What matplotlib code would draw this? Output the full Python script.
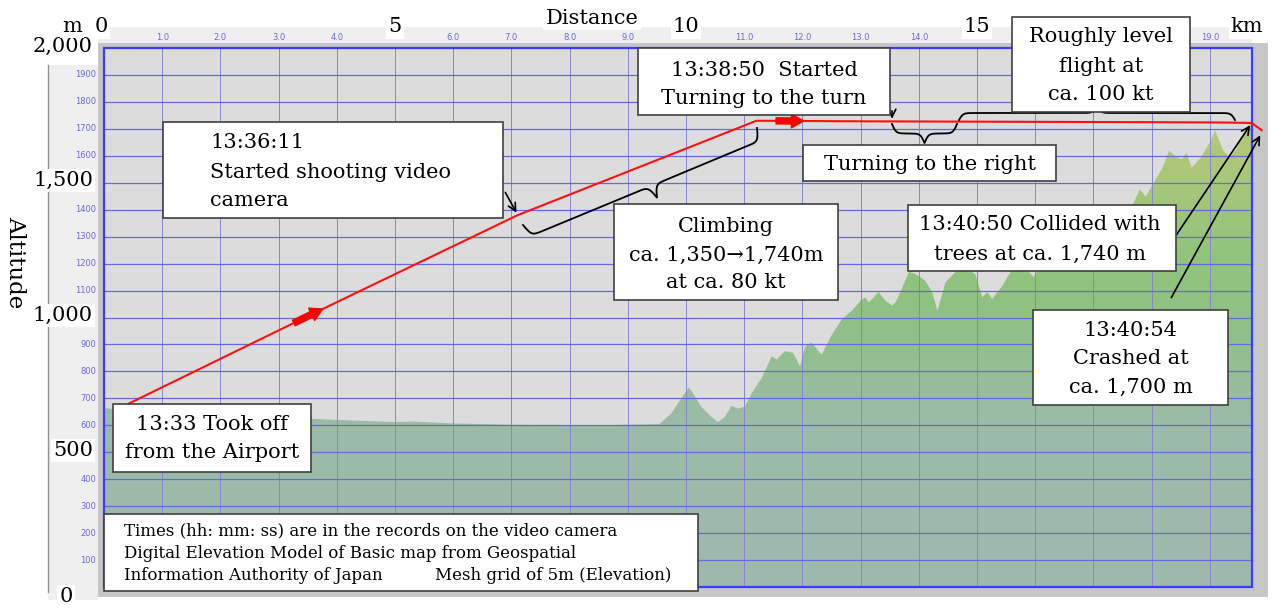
import numpy as np
import matplotlib
matplotlib.use("Agg")
import matplotlib.pyplot as plt
from matplotlib.patches import Rectangle, Polygon, FancyArrowPatch
from matplotlib.colors import LinearSegmentedColormap

# ground elevation along the track (km from the airport, m)
terrain_km = [0.0, 0.15, 1.0, 2.0, 3.0, 3.6, 4.0, 5.0, 5.3, 6.0, 7.0, 8.0, 8.5, 9.0,
              9.52, 9.55, 9.75, 9.86, 9.98, 10.05, 10.12, 10.26, 10.44, 10.55, 10.67,
              10.78, 10.90, 11.01, 11.13, 11.30, 11.47, 11.56, 11.70, 11.84, 11.96,
              12.05, 12.16, 12.33, 12.51, 12.68, 12.85, 13.0, 13.08, 13.14, 13.31,
              13.43, 13.54, 13.60, 13.71, 13.83, 13.94, 14.11, 14.23, 14.32, 14.46,
              14.63, 14.80, 14.97, 15.09, 15.18, 15.26, 15.44, 15.61, 15.78, 15.9,
              15.97, 16.1, 16.4, 16.7, 17.0, 17.3, 17.55, 17.68, 17.8, 17.9, 18.0,
              18.19, 18.3, 18.4, 18.52, 18.6, 18.69, 18.85, 19.0, 19.09, 19.23, 19.34,
              19.46, 19.57, 19.68, 19.72]
terrain_alt = [665, 660, 650, 640, 630, 624, 620, 612, 614, 607, 602, 601, 600, 602,
               604, 606, 644, 681, 719, 740, 719, 669, 631, 612, 631,
               672, 662, 669, 719, 775, 856, 844, 875, 869, 819,
               894, 906, 862, 937, 994, 1025, 1062, 1075, 1056, 1094,
               1062, 1044, 1056, 1106, 1169, 1162, 1137, 1094, 1025, 1131,
               1169, 1181, 1162, 1075, 1094, 1069, 1119, 1181, 1175, 1169,
               1150, 1190, 1240, 1290, 1330, 1370, 1400, 1420, 1475, 1448, 1487,
               1556, 1619, 1600, 1587, 1612, 1556, 1594, 1650, 1694, 1619, 1594,
               1625, 1681, 1719, 1725]

# flight path
flight_km = [0.42, 3.54, 7.11, 11.21, 13.0, 16.0, 19.0, 19.72, 19.89]
flight_alt = [680, 1009, 1380, 1730, 1728, 1726, 1724, 1722, 1695]

km_big = [0, 5, 10, 15]
alt_big = [2000, 1500, 1000, 500]
km_small = [1, 2, 3, 4, 6, 7, 8, 9, 11, 12, 13, 14, 19]   # the others sit under labels
alt_small = [100, 200, 300, 400, 600, 700, 800, 900, 1100, 1200, 1300, 1400,
             1600, 1700, 1800, 1900]
grid_km = list(range(1, 20))
grid_alt = list(range(100, 2000, 100))
km_end = 19.72

W, H = 1273, 608
SERIF = "DejaVu Serif"

fig = plt.figure(figsize=(W / 100, H / 100), dpi=100)
ax = fig.add_axes([98 / W, 1 - 597 / H, 1170 / W, 554 / H])
ax.set_xlim(-6 / 58.2, 1164 / 58.2)
ax.set_ylim(-10 / 0.2695, 544 / 0.2695)
ax.set_facecolor("#c6c6c6")
ax.set_xticks([])
ax.set_yticks([])
for s in ax.spines.values():
    s.set_visible(False)

ax.add_patch(Rectangle((0, 0), km_end, 2000, fc="#dcdcdc", ec="none", zorder=0))

# terrain with altitude gradient
cmap = LinearSegmentedColormap.from_list("terr", [
    (0.0, "#9eb8ae"), (0.3, "#9cbba8"), (0.5, "#8fc184"),
    (0.62, "#92c47b"), (0.8, "#afc879"), (1.0, "#b8ca78")])
verts = list(zip(terrain_km, terrain_alt)) + [(km_end, 0), (0, 0)]
poly = Polygon(verts, closed=True, fc="none", ec="none")
ax.add_patch(poly)
grad = np.linspace(0, 1, 256).reshape(-1, 1)
im = ax.imshow(grad, extent=[0, km_end, 0, 2000], origin="lower", aspect="auto",
               cmap=cmap, zorder=1)
im.set_clip_path(poly)

for k in grid_km:
    ax.plot([k, k], [0, 2000], color="#8686d0", lw=0.7, zorder=2)
for a in grid_alt:
    ax.plot([0, km_end], [a, a], color="#6868de", lw=0.9, zorder=2)
ax.add_patch(Rectangle((0, 0), km_end, 2000, fill=False, ec="#3c3cff", lw=1.6, zorder=3))

ax.plot(flight_km, flight_alt, color="#ff1010", lw=1.5, zorder=4, clip_on=False)
for k0, k1 in [(3.22, 3.8), (11.5, 12.07)]:
    a0 = np.interp(k0, flight_km, flight_alt)
    a1 = np.interp(k1, flight_km, flight_alt)
    ax.add_patch(FancyArrowPatch((k0, a0), (k1, a1), mutation_scale=22, color="#ff0000",
                                 arrowstyle="simple,head_length=0.4,head_width=0.45,tail_width=0.2",
                                 zorder=5))

# overlay in pixel coordinates for labels and call-outs
ov = fig.add_axes([0, 0, 1, 1])
ov.set_xlim(0, W)
ov.set_ylim(H, 0)
ov.axis("off")


def to_px(k, a):
    x, y = ax.transData.transform((k, a))
    return x, H - y


ov.add_patch(Rectangle((98, 27), 1154, 16, fc="#efefef", ec="none"))
ov.add_patch(Rectangle((48, 65), 50, 535, fc="#efefef", ec="none"))
ov.plot([48, 48], [65, 592], color="#909090", lw=1)

for k in km_small:
    x, _ = to_px(k, 0)
    ov.text(x, 37, f"{k}.0", ha="center", va="center", fontsize=6, color="#6a6ad0")
for a in alt_small:
    _, y = to_px(0, a)
    ov.text(96, y, str(a), ha="right", va="center", fontsize=6, color="#6a6ad0")

wb = dict(fc="white", ec="none", pad=1.5)
for k in km_big:
    x, _ = to_px(k, 0)
    ov.text(x - 3 if k == 0 else x, 27, str(k), ha="center", va="center", fontsize=15,
            family=SERIF, bbox=wb)
for a in alt_big:
    _, y = to_px(0, a)
    ov.text(93, y - 2, f"{a:,}", ha="right", va="center", fontsize=15, family=SERIF, bbox=wb)
ov.text(66, 597, "0", ha="center", va="center", fontsize=15, family=SERIF, bbox=wb)
ov.text(72, 26, "m", ha="center", va="center", fontsize=15, family=SERIF, bbox=wb)
ov.text(1247, 27, "km", ha="center", va="center", fontsize=15, family=SERIF, bbox=wb)
ov.text(592, 18, "Distance", ha="center", va="center", fontsize=15, family=SERIF, bbox=wb)
ov.text(15, 262, "Altitude", ha="center", va="center", fontsize=16.5, family=SERIF,
        rotation=-90)


def box(x0, y0, x1, y1, lines, ys, x=None, ha="center", size=15):
    ov.add_patch(Rectangle((x0, y0), x1 - x0, y1 - y0, fc="white", ec="#404040", lw=1.2,
                           zorder=5))
    tx = (x0 + x1) / 2 if x is None else x
    for t, y in zip(lines, ys):
        ov.text(tx, y, t, ha=ha, va="center", fontsize=size, family=SERIF, zorder=6)


def brace(p0, p1, depth, tip=0.5, beta=0.5):
    p0 = np.asarray(p0, float)
    p1 = np.asarray(p1, float)
    d = p1 - p0
    L = np.hypot(*d)
    u = d / L
    n = np.array([-u[1], u[0]])
    la, lb = L * tip, L * (1 - tip)
    s1 = np.linspace(0, la, 200)
    h1 = 1 / (1 + np.exp(-beta * s1)) + 1 / (1 + np.exp(-beta * (s1 - la))) - 0.5
    s2 = np.linspace(0, lb, 200)
    h2 = (1 / (1 + np.exp(-beta * s2)) + 1 / (1 + np.exp(-beta * (s2 - lb))) - 0.5)[::-1]
    s = np.concatenate([s1, la + s2])
    h = np.concatenate([h1, h2])
    pts = p0 + np.outer(s, u) + np.outer(h * depth, n)
    ov.plot(pts[:, 0], pts[:, 1], color="k", lw=1.3, zorder=4)


brace((523, 225), (757, 128), 26, tip=0.53)
brace((892, 124), (957, 124), 19)
brace((959, 120), (1235, 120), -14)

arrow_kw = dict(arrowstyle="->", color="k", lw=1.2, mutation_scale=14)
ov.annotate("", xy=to_px(flight_km[2], flight_alt[2]), xytext=(504, 190), arrowprops=arrow_kw,
            zorder=4)
ov.annotate("", xy=to_px(13.54, 1727), xytext=(892, 108), arrowprops=arrow_kw, zorder=4)
ov.annotate("", xy=to_px(flight_km[-2], flight_alt[-2]), xytext=(1175, 237),
            arrowprops=arrow_kw, zorder=4)
ov.annotate("", xy=to_px(flight_km[-1], flight_alt[-1] - 10), xytext=(1170, 300),
            arrowprops=arrow_kw, zorder=4)

box(163, 122, 503, 218, ["13:36:11", "Started shooting video", "camera"],
    [142, 172, 201], x=210, ha="left")
box(638, 48, 890, 115, ["13:38:50  Started", "Turning to the turn"], [70, 98], x=764)
box(1012, 17, 1190, 112, ["Roughly level", "flight at", "ca. 100 kt"], [37, 67, 95])
box(803, 145, 1056, 181, ["Turning to the right"], [164])
box(614, 204, 838, 300, ["Climbing", "ca. 1,350\u21921,740m", "at ca. 80 kt"], [226, 255, 283])
box(908, 205, 1176, 271, ["13:40:50 Collided with", "trees at ca. 1,740 m"], [224, 254],
    x=1040)
box(1033, 310, 1228, 405, ["13:40:54", "Crashed at", "ca. 1,700 m"], [330, 358, 387])
box(113, 404, 311, 472, ["13:33 Took off", "from the Airport"], [425, 453])

box(104, 514, 698, 591, ["Times (hh: mm: ss) are in the records on the video camera",
                         "Digital Elevation Model of Basic map from Geospatial",
                         "Information Authority of Japan"], [531, 553, 576],
    x=124, ha="left", size=12)
ov.text(435, 576, "Mesh grid of 5m (Elevation)", ha="left", va="center", fontsize=12,
        family=SERIF, zorder=6)

fig.savefig("out.png", dpi=100, facecolor="white")
